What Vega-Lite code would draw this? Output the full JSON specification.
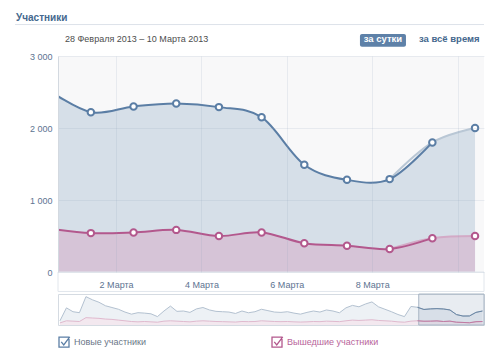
{
  "$schema": "https://vega.github.io/schema/vega-lite/v6.json",
  "padding": {"left": 14, "top": 13, "right": 0, "bottom": 0},
  "config": {"font": "Liberation Sans", "view": {"stroke": null}, "axis": {"labelOverlap": false}, "axisY": {"tickCount": 6, "labelOverlap": false}},
  "spacing": 1,
  "datasets": {
    "main": [
      {"s": "Новые участники", "d": 0.41, "v": 2530},
      {"s": "Новые участники", "d": 1.41, "v": 2220},
      {"s": "Новые участники", "d": 2.41, "v": 2300},
      {"s": "Новые участники", "d": 3.41, "v": 2340},
      {"s": "Новые участники", "d": 4.41, "v": 2290},
      {"s": "Новые участники", "d": 5.41, "v": 2150},
      {"s": "Новые участники", "d": 6.41, "v": 1490},
      {"s": "Новые участники", "d": 7.41, "v": 1280},
      {"s": "Новые участники", "d": 8.41, "v": 1290},
      {"s": "Новые участники", "d": 9.41, "v": 1800},
      {"s": "Новые участники", "d": 10.41, "v": 2000},
      {"s": "Вышедшие участники", "d": 0.41, "v": 605},
      {"s": "Вышедшие участники", "d": 1.41, "v": 540},
      {"s": "Вышедшие участники", "d": 2.41, "v": 550},
      {"s": "Вышедшие участники", "d": 3.41, "v": 585},
      {"s": "Вышедшие участники", "d": 4.41, "v": 500},
      {"s": "Вышедшие участники", "d": 5.41, "v": 550},
      {"s": "Вышедшие участники", "d": 6.41, "v": 400},
      {"s": "Вышедшие участники", "d": 7.41, "v": 365},
      {"s": "Вышедшие участники", "d": 8.41, "v": 320},
      {"s": "Вышедшие участники", "d": 9.41, "v": 470},
      {"s": "Вышедшие участники", "d": 10.41, "v": 500}
    ],
    "header": [
      {"k": "title"}
    ],
    "nav": [
      {"s":"b","t":0.3,"v":600},{"s":"b","t":1.3,"v":2450},{"s":"b","t":2.3,"v":1900},{"s":"b","t":3.3,"v":1760},{"s":"b","t":4.3,"v":4050},{"s":"b","t":5.3,"v":3600},{"s":"b","t":6.3,"v":3250},{"s":"b","t":7.3,"v":2750},{"s":"b","t":8.3,"v":2500},{"s":"b","t":9.3,"v":2250},{"s":"b","t":10.3,"v":1850},{"s":"b","t":11.3,"v":1550},{"s":"b","t":12.3,"v":1760},{"s":"b","t":13.3,"v":1700},{"s":"b","t":14.3,"v":1600},{"s":"b","t":15.3,"v":1200},{"s":"b","t":16.3,"v":2000},{"s":"b","t":17.3,"v":2700},{"s":"b","t":18.3,"v":1950},{"s":"b","t":19.3,"v":2000},{"s":"b","t":20.3,"v":1800},{"s":"b","t":21.3,"v":2300},{"s":"b","t":22.3,"v":2500},{"s":"b","t":23.3,"v":2150},{"s":"b","t":24.3,"v":1950},{"s":"b","t":25.3,"v":1900},{"s":"b","t":26.3,"v":1850},{"s":"b","t":27.3,"v":1650},{"s":"b","t":28.3,"v":2000},{"s":"b","t":29.3,"v":1750},{"s":"b","t":30.3,"v":1900},{"s":"b","t":31.3,"v":2250},{"s":"b","t":32.3,"v":2050},{"s":"b","t":33.3,"v":1850},{"s":"b","t":34.3,"v":1800},{"s":"b","t":35.3,"v":1900},{"s":"b","t":36.3,"v":1700},{"s":"b","t":37.3,"v":1550},{"s":"b","t":38.3,"v":1800},{"s":"b","t":39.3,"v":2000},{"s":"b","t":40.3,"v":1850},{"s":"b","t":41.3,"v":2150},{"s":"b","t":42.3,"v":2000},{"s":"b","t":43.3,"v":1750},{"s":"b","t":44.3,"v":2450},{"s":"b","t":45.3,"v":2800},{"s":"b","t":46.3,"v":2600},{"s":"b","t":47.3,"v":3000},{"s":"b","t":48.3,"v":3300},{"s":"b","t":49.3,"v":2600},{"s":"b","t":50.3,"v":2250},{"s":"b","t":51.3,"v":1900},{"s":"b","t":52.3,"v":1500},{"s":"b","t":53.3,"v":1200},{"s":"b","t":54.3,"v":2650},{"s":"b","t":55.3,"v":2530},{"s":"b","t":56.3,"v":2220},{"s":"b","t":57.3,"v":2300},{"s":"b","t":58.3,"v":2340},{"s":"b","t":59.3,"v":2290},{"s":"b","t":60.3,"v":2150},{"s":"b","t":61.3,"v":1490},{"s":"b","t":62.3,"v":1280},{"s":"b","t":63.3,"v":1290},{"s":"b","t":64.3,"v":1800},{"s":"b","t":65.3,"v":2000},
      {"s":"p","t":0.3,"v":300},{"s":"p","t":1.3,"v":600},{"s":"p","t":2.3,"v":550},{"s":"p","t":3.3,"v":500},{"s":"p","t":4.3,"v":1050},{"s":"p","t":5.3,"v":1000},{"s":"p","t":6.3,"v":950},{"s":"p","t":7.3,"v":850},{"s":"p","t":8.3,"v":800},{"s":"p","t":9.3,"v":700},{"s":"p","t":10.3,"v":600},{"s":"p","t":11.3,"v":500},{"s":"p","t":12.3,"v":450},{"s":"p","t":13.3,"v":500},{"s":"p","t":14.3,"v":450},{"s":"p","t":15.3,"v":400},{"s":"p","t":16.3,"v":550},{"s":"p","t":17.3,"v":600},{"s":"p","t":18.3,"v":550},{"s":"p","t":19.3,"v":500},{"s":"p","t":20.3,"v":450},{"s":"p","t":21.3,"v":550},{"s":"p","t":22.3,"v":600},{"s":"p","t":23.3,"v":550},{"s":"p","t":24.3,"v":500},{"s":"p","t":25.3,"v":480},{"s":"p","t":26.3,"v":450},{"s":"p","t":27.3,"v":420},{"s":"p","t":28.3,"v":500},{"s":"p","t":29.3,"v":480},{"s":"p","t":30.3,"v":500},{"s":"p","t":31.3,"v":600},{"s":"p","t":32.3,"v":550},{"s":"p","t":33.3,"v":500},{"s":"p","t":34.3,"v":480},{"s":"p","t":35.3,"v":500},{"s":"p","t":36.3,"v":450},{"s":"p","t":37.3,"v":420},{"s":"p","t":38.3,"v":450},{"s":"p","t":39.3,"v":500},{"s":"p","t":40.3,"v":480},{"s":"p","t":41.3,"v":550},{"s":"p","t":42.3,"v":520},{"s":"p","t":43.3,"v":480},{"s":"p","t":44.3,"v":600},{"s":"p","t":45.3,"v":700},{"s":"p","t":46.3,"v":650},{"s":"p","t":47.3,"v":700},{"s":"p","t":48.3,"v":750},{"s":"p","t":49.3,"v":650},{"s":"p","t":50.3,"v":600},{"s":"p","t":51.3,"v":550},{"s":"p","t":52.3,"v":450},{"s":"p","t":53.3,"v":400},{"s":"p","t":54.3,"v":550},{"s":"p","t":55.3,"v":605},{"s":"p","t":56.3,"v":540},{"s":"p","t":57.3,"v":550},{"s":"p","t":58.3,"v":585},{"s":"p","t":59.3,"v":500},{"s":"p","t":60.3,"v":550},{"s":"p","t":61.3,"v":400},{"s":"p","t":62.3,"v":365},{"s":"p","t":63.3,"v":320},{"s":"p","t":64.3,"v":470},{"s":"p","t":65.3,"v":500}
    ]
  },
  "vconcat": [
    {
      "width": 426,
      "height": 216,
      "view": {"fill": "#f8f8f9", "stroke": null},
      "layer": [
        {
          "data": {"name": "main"},
          "transform": [{"filter": "datum.s === 'Новые участники'"}],
          "mark": {"type": "area", "interpolate": "cardinal", "fill": "#d6dfe8", "clip": true},
          "encoding": {
            "x": {
              "field": "d", "type": "quantitative",
              "scale": {"domain": [0.64, 10.62], "nice": false, "zero": false},
              "axis": {
                "title": null, "values": [2, 4, 6, 8, 10],
                "labelExpr": "datum.value < 10 ? datum.value + ' Марта' : ''",
                "grid": true, "gridColor": "#8fa3b8", "gridOpacity": 0.16,
                "ticks": false, "domain": false, "labelPadding": 8,
                "labelColor": "#5d7391", "labelFontSize": 9, "zindex": 1
              }
            },
            "y": {
              "field": "v", "type": "quantitative",
              "scale": {"domain": [0, 3000], "nice": false},
              "axis": {"title": null, "values": [0, 500, 1000, 1500, 2000, 2500, 3000], "tickCount": 6, "labelOverlap": false, "labelExpr": "replace(format(datum.value, ','), ',', ' ')", "grid": true, "gridColor": "#8fa3b8", "gridOpacity": 0.16, "ticks": false, "domain": true, "domainColor": "#d3d9e0", "labelPadding": 6, "labelColor": "#5d7391", "labelFontSize": 9, "zindex": 1}
            }
          }
        },
        {
          "data": {"name": "main"},
          "transform": [{"filter": "datum.s === 'Вышедшие участники'"}],
          "mark": {"type": "area", "interpolate": "cardinal", "fill": "#d6c4d7", "clip": true},
          "encoding": {"x": {"field": "d", "type": "quantitative"}, "y": {"field": "v", "type": "quantitative", "axis": {"title": null, "values": [0, 500, 1000, 1500, 2000, 2500, 3000], "tickCount": 6, "labelOverlap": false, "labelExpr": "replace(format(datum.value, ','), ',', ' ')", "grid": true, "gridColor": "#8fa3b8", "gridOpacity": 0.16, "ticks": false, "domain": true, "domainColor": "#d3d9e0", "labelPadding": 6, "labelColor": "#5d7391", "labelFontSize": 9, "zindex": 1}}}
        },
        {
          "data": {"name": "main"},
          "transform": [{"filter": "datum.s === 'Новые участники' && datum.d > 8"}],
          "mark": {"type": "line", "interpolate": "cardinal", "strokeWidth": 2, "stroke": "#b9c7d5", "clip": true},
          "encoding": {"x": {"field": "d", "type": "quantitative"}, "y": {"field": "v", "type": "quantitative", "axis": {"title": null, "values": [0, 500, 1000, 1500, 2000, 2500, 3000], "tickCount": 6, "labelOverlap": false, "labelExpr": "replace(format(datum.value, ','), ',', ' ')", "grid": true, "gridColor": "#8fa3b8", "gridOpacity": 0.16, "ticks": false, "domain": true, "domainColor": "#d3d9e0", "labelPadding": 6, "labelColor": "#5d7391", "labelFontSize": 9, "zindex": 1}}}
        },
        {
          "data": {"name": "main"},
          "transform": [{"filter": "datum.s === 'Вышедшие участники' && datum.d > 8"}],
          "mark": {"type": "line", "interpolate": "cardinal", "strokeWidth": 2, "stroke": "#d3aac6", "clip": true},
          "encoding": {"x": {"field": "d", "type": "quantitative"}, "y": {"field": "v", "type": "quantitative", "axis": {"title": null, "values": [0, 500, 1000, 1500, 2000, 2500, 3000], "tickCount": 6, "labelOverlap": false, "labelExpr": "replace(format(datum.value, ','), ',', ' ')", "grid": true, "gridColor": "#8fa3b8", "gridOpacity": 0.16, "ticks": false, "domain": true, "domainColor": "#d3d9e0", "labelPadding": 6, "labelColor": "#5d7391", "labelFontSize": 9, "zindex": 1}}}
        },
        {
          "data": {"name": "main"},
          "transform": [{"filter": "datum.d < 9.5"}],
          "mark": {"type": "line", "interpolate": "cardinal", "strokeWidth": 2, "clip": true},
          "encoding": {
            "x": {"field": "d", "type": "quantitative"},
            "y": {"field": "v", "type": "quantitative", "axis": {"title": null, "values": [0, 500, 1000, 1500, 2000, 2500, 3000], "tickCount": 6, "labelOverlap": false, "labelExpr": "replace(format(datum.value, ','), ',', ' ')", "grid": true, "gridColor": "#8fa3b8", "gridOpacity": 0.16, "ticks": false, "domain": true, "domainColor": "#d3d9e0", "labelPadding": 6, "labelColor": "#5d7391", "labelFontSize": 9, "zindex": 1}},
            "stroke": {
              "field": "s", "type": "nominal",
              "scale": {"domain": ["Новые участники", "Вышедшие участники"], "range": ["#5b7ea5", "#b3588d"]},
              "legend": {
                "orient": "bottom", "direction": "horizontal", "title": null,
                "symbolType": "M-1,-1H1V1H-1Z M-0.55,-0.05L-0.05,0.55L1.15,-1.05",
                "symbolSize": 100, "symbolStrokeWidth": 1.3, "symbolFillColor": "#ffffff",
                "labelFontSize": 9, "labelOffset": 4, "columnPadding": 122,
                "offset": 10, "padding": 0,
                "encode": {
                  "labels": {"update": {"fill": {"signal": "datum.label === 'Вышедшие участники' ? '#b8649a' : '#6a7687'"}}}
                }
              }
            }
          }
        },
        {
          "data": {"name": "main"},
          "transform": [{"filter": "datum.d > 1"}],
          "mark": {"type": "point", "filled": true, "fill": "#ffffff", "strokeWidth": 2, "size": 42, "opacity": 1},
          "encoding": {"x": {"field": "d", "type": "quantitative"}, "y": {"field": "v", "type": "quantitative", "axis": {"title": null, "values": [0, 500, 1000, 1500, 2000, 2500, 3000], "tickCount": 6, "labelOverlap": false, "labelExpr": "replace(format(datum.value, ','), ',', ' ')", "grid": true, "gridColor": "#8fa3b8", "gridOpacity": 0.16, "ticks": false, "domain": true, "domainColor": "#d3d9e0", "labelPadding": 6, "labelColor": "#5d7391", "labelFontSize": 9, "zindex": 1}}, "stroke": {"field": "s", "type": "nominal"}}
        },
        {
          "data": {"name": "header"},
          "mark": {"type": "rect", "fill": "#ffffff", "stroke": "#e1e6ec", "strokeWidth": 1, "clip": false},
          "encoding": {"x": {"datum": 0.64, "type": "quantitative"}, "x2": {"datum": 10.62}, "y": {"datum": 0, "type": "quantitative", "axis": {"title": null, "values": [0, 500, 1000, 1500, 2000, 2500, 3000], "tickCount": 6, "labelOverlap": false, "labelExpr": "replace(format(datum.value, ','), ',', ' ')", "grid": true, "gridColor": "#8fa3b8", "gridOpacity": 0.16, "ticks": false, "domain": true, "domainColor": "#d3d9e0", "labelPadding": 6, "labelColor": "#5d7391", "labelFontSize": 9, "zindex": 1}}, "y2": {"datum": -270}}
        },
        {
          "data": {"name": "header"},
          "mark": {"type": "text", "text": "Участники", "align": "left", "baseline": "alphabetic", "fontWeight": "bold", "fontSize": 10, "color": "#45688e", "clip": false},
          "encoding": {"x": {"datum": -0.344, "type": "quantitative"}, "y": {"datum": 3486, "type": "quantitative", "axis": {"title": null, "values": [0, 500, 1000, 1500, 2000, 2500, 3000], "tickCount": 6, "labelOverlap": false, "labelExpr": "replace(format(datum.value, ','), ',', ' ')", "grid": true, "gridColor": "#8fa3b8", "gridOpacity": 0.16, "ticks": false, "domain": true, "domainColor": "#d3d9e0", "labelPadding": 6, "labelColor": "#5d7391", "labelFontSize": 9, "zindex": 1}}}
        },
        {
          "data": {"name": "header"},
          "mark": {"type": "rule", "stroke": "#dde3ea", "strokeWidth": 1, "clip": false},
          "encoding": {"x": {"datum": -0.367, "type": "quantitative"}, "x2": {"datum": 10.62}, "y": {"datum": 3437, "type": "quantitative", "axis": {"title": null, "values": [0, 500, 1000, 1500, 2000, 2500, 3000], "tickCount": 6, "labelOverlap": false, "labelExpr": "replace(format(datum.value, ','), ',', ' ')", "grid": true, "gridColor": "#8fa3b8", "gridOpacity": 0.16, "ticks": false, "domain": true, "domainColor": "#d3d9e0", "labelPadding": 6, "labelColor": "#5d7391", "labelFontSize": 9, "zindex": 1}}}
        },
        {
          "data": {"name": "header"},
          "mark": {"type": "text", "text": "28 Февраля 2013 – 10 Марта 2013", "align": "left", "baseline": "alphabetic", "fontSize": 9, "color": "#4d4d4d", "clip": false},
          "encoding": {"x": {"datum": 0.804, "type": "quantitative"}, "y": {"datum": 3194, "type": "quantitative", "axis": {"title": null, "values": [0, 500, 1000, 1500, 2000, 2500, 3000], "tickCount": 6, "labelOverlap": false, "labelExpr": "replace(format(datum.value, ','), ',', ' ')", "grid": true, "gridColor": "#8fa3b8", "gridOpacity": 0.16, "ticks": false, "domain": true, "domainColor": "#d3d9e0", "labelPadding": 6, "labelColor": "#5d7391", "labelFontSize": 9, "zindex": 1}}}
        },
        {
          "data": {"name": "header"},
          "mark": {"type": "rect", "fill": "#5e81a8", "cornerRadius": 2, "clip": false},
          "encoding": {"x": {"datum": 7.714, "type": "quantitative"}, "x2": {"datum": 8.792}, "y": {"datum": 3306, "type": "quantitative", "axis": {"title": null, "values": [0, 500, 1000, 1500, 2000, 2500, 3000], "tickCount": 6, "labelOverlap": false, "labelExpr": "replace(format(datum.value, ','), ',', ' ')", "grid": true, "gridColor": "#8fa3b8", "gridOpacity": 0.16, "ticks": false, "domain": true, "domainColor": "#d3d9e0", "labelPadding": 6, "labelColor": "#5d7391", "labelFontSize": 9, "zindex": 1}}, "y2": {"datum": 3129}}
        },
        {
          "data": {"name": "header"},
          "mark": {"type": "text", "text": "за сутки", "align": "center", "baseline": "alphabetic", "fontWeight": "bold", "fontSize": 9.5, "color": "#ffffff", "clip": false},
          "encoding": {"x": {"datum": 8.253, "type": "quantitative"}, "y": {"datum": 3194, "type": "quantitative", "axis": {"title": null, "values": [0, 500, 1000, 1500, 2000, 2500, 3000], "tickCount": 6, "labelOverlap": false, "labelExpr": "replace(format(datum.value, ','), ',', ' ')", "grid": true, "gridColor": "#8fa3b8", "gridOpacity": 0.16, "ticks": false, "domain": true, "domainColor": "#d3d9e0", "labelPadding": 6, "labelColor": "#5d7391", "labelFontSize": 9, "zindex": 1}}}
        },
        {
          "data": {"name": "header"},
          "mark": {"type": "text", "text": "за всё время", "align": "left", "baseline": "alphabetic", "fontWeight": "bold", "fontSize": 9.5, "color": "#45688e", "clip": false},
          "encoding": {"x": {"datum": 9.096, "type": "quantitative"}, "y": {"datum": 3194, "type": "quantitative", "axis": {"title": null, "values": [0, 500, 1000, 1500, 2000, 2500, 3000], "tickCount": 6, "labelOverlap": false, "labelExpr": "replace(format(datum.value, ','), ',', ' ')", "grid": true, "gridColor": "#8fa3b8", "gridOpacity": 0.16, "ticks": false, "domain": true, "domainColor": "#d3d9e0", "labelPadding": 6, "labelColor": "#5d7391", "labelFontSize": 9, "zindex": 1}}}
        }
      ]
    },
    {
      "width": 426,
      "height": 31,
      "view": {"fill": "#ffffff", "stroke": "#d5dbe2"},
      "layer": [
        {
          "data": {"name": "nav"},
          "transform": [{"filter": "datum.s === 'b'"}],
          "mark": {"type": "area", "fill": "#edf1f5", "clip": true},
          "encoding": {
            "x": {"field": "t", "type": "quantitative", "scale": {"domain": [0, 65.54], "nice": false, "zero": false}, "axis": null},
            "y": {"field": "v", "type": "quantitative", "scale": {"domain": [0, 4430], "nice": false}, "axis": null}
          }
        },
        {
          "data": {"name": "nav"},
          "transform": [{"filter": "datum.s === 'p'"}],
          "mark": {"type": "area", "fill": "#f3e8ef", "clip": true},
          "encoding": {"x": {"field": "t", "type": "quantitative"}, "y": {"field": "v", "type": "quantitative"}}
        },
        {
          "data": {"name": "nav"},
          "transform": [{"filter": "datum.s === 'b'"}],
          "mark": {"type": "line", "stroke": "#b3c1d0", "strokeWidth": 1, "clip": true},
          "encoding": {"x": {"field": "t", "type": "quantitative"}, "y": {"field": "v", "type": "quantitative"}}
        },
        {
          "data": {"name": "nav"},
          "transform": [{"filter": "datum.s === 'p'"}],
          "mark": {"type": "line", "stroke": "#e0b9ce", "strokeWidth": 1, "clip": true},
          "encoding": {"x": {"field": "t", "type": "quantitative"}, "y": {"field": "v", "type": "quantitative"}}
        },
        {
          "data": {"name": "header"},
          "mark": {"type": "rect", "fill": "#4a6e96", "fillOpacity": 0.13, "stroke": "#a9b6c4", "strokeWidth": 1},
          "encoding": {"x": {"datum": 55.5, "type": "quantitative"}, "x2": {"datum": 65.54}, "y": {"datum": 0, "type": "quantitative"}, "y2": {"datum": 4430}}
        },
        {
          "data": {"name": "nav"},
          "transform": [{"filter": "datum.s === 'b' && datum.t > 55"}],
          "mark": {"type": "line", "stroke": "#6a86a4", "strokeWidth": 1, "clip": true},
          "encoding": {"x": {"field": "t", "type": "quantitative"}, "y": {"field": "v", "type": "quantitative"}}
        },
        {
          "data": {"name": "nav"},
          "transform": [{"filter": "datum.s === 'p' && datum.t > 55"}],
          "mark": {"type": "line", "stroke": "#c07aa2", "strokeWidth": 1, "clip": true},
          "encoding": {"x": {"field": "t", "type": "quantitative"}, "y": {"field": "v", "type": "quantitative"}}
        }
      ]
    }
  ]
}
